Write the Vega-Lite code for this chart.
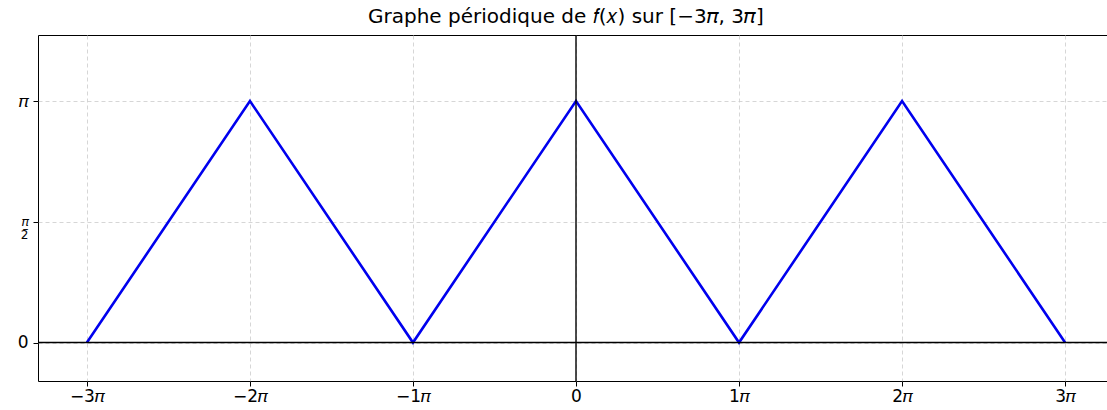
{
  "$schema": "https://vega.github.io/schema/vega-lite/v6.json",
  "width": 1076,
  "height": 346,
  "autosize": "none",
  "padding": {"left": 38, "top": 35, "right": 0, "bottom": 29},
  "background": "white",
  "title": {
    "text": "Graphe périodique de 𝑓(𝑥) sur [−3𝜋, 3𝜋]",
    "font": "DejaVu Sans",
    "fontSize": 20,
    "fontWeight": "normal",
    "color": "black",
    "anchor": "middle",
    "frame": "bounds",
    "offset": 7
  },
  "config": {
    "view": {"stroke": "black", "strokeWidth": 1},
    "axis": {
      "domain": false,
      "grid": true,
      "gridColor": "#cccccc",
      "gridDash": [4, 3],
      "gridWidth": 0.8,
      "tickColor": "black",
      "tickSize": 5,
      "labelFont": "DejaVu Sans",
      "labelFontSize": 17,
      "labelColor": "black",
      "title": null
    }
  },
  "data": {
    "values": [
      {"x": -3, "y": 0},
      {"x": -2, "y": 1},
      {"x": -1, "y": 0},
      {"x": 0, "y": 1},
      {"x": 1, "y": 0},
      {"x": 2, "y": 1},
      {"x": 3, "y": 0}
    ]
  },
  "layer": [
    {
      "mark": {"type": "line", "color": "#0000ee", "strokeWidth": 2.6},
      "encoding": {
        "x": {
          "field": "x",
          "type": "quantitative",
          "scale": {"domain": [-3.3, 3.3], "nice": false, "zero": false},
          "axis": {
            "values": [-3, -2, -1, 0, 1, 2, 3],
            "labelExpr": "datum.value == 0 ? '0' : (datum.value < 0 ? '−' + abs(datum.value) + '𝜋' : datum.value + '𝜋')",
            "labelPadding": 2
          }
        },
        "y": {
          "field": "y",
          "type": "quantitative",
          "scale": {"domain": [-0.15915, 1.27324], "nice": false, "zero": false},
          "axis": {
            "values": [0, 0.5, 1],
            "labelExpr": "datum.value == 0 ? '0' : (datum.value == 1 ? '𝜋' : ['𝜋', '–', '2'])",
            "labelFontSize": {"condition": {"test": "datum.value == 0.5", "value": 12}, "value": 17},
            "labelLineHeight": 6.5,
            "labelPadding": 5
          }
        }
      }
    },
    {
      "data": {"values": [{"v": 0}]},
      "mark": {"type": "rule", "color": "black", "strokeWidth": 1.4},
      "encoding": {"x": {"field": "v", "type": "quantitative"}}
    },
    {
      "data": {"values": [{"v": 0}]},
      "mark": {"type": "rule", "color": "black", "strokeWidth": 1.4},
      "encoding": {"y": {"field": "v", "type": "quantitative"}}
    }
  ]
}
